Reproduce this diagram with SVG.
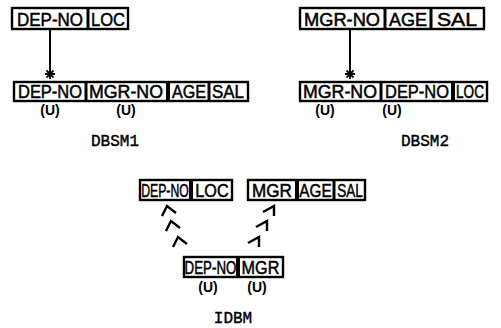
<svg xmlns="http://www.w3.org/2000/svg" width="501" height="328" viewBox="0 0 501 328">
<style>
.box{fill:#fff;stroke:#000;stroke-width:2.4}
.dv{stroke:#000;stroke-width:3}
.t{font-family:"Liberation Sans",Arial,sans-serif;font-size:18px;fill:#000;text-anchor:middle;stroke:#000;stroke-width:0.5}
.u{font-family:"Liberation Sans",Arial,sans-serif;font-size:14px;font-weight:bold;fill:#000;text-anchor:middle}
.lb{font-family:"Liberation Mono","Courier New",monospace;font-size:16px;fill:#000;text-anchor:middle;stroke:#000;stroke-width:0.4}
.ln{stroke:#000;stroke-width:2;fill:none}
.sr{stroke:#000;stroke-width:1.8;fill:none}
.ch{stroke:#000;stroke-width:2.4;fill:none;stroke-linejoin:miter}
</style>

<g id="dbsm1-top">
<rect class="box" x="12" y="8" width="116" height="21"/>
<line class="dv" x1="88" y1="8" x2="88" y2="29"/>
<text class="t" x="50" y="25.5" textLength="66" lengthAdjust="spacingAndGlyphs">DEP-NO</text>
<text class="t" x="108" y="25.5" textLength="34" lengthAdjust="spacingAndGlyphs">LOC</text>
</g>

<g id="dbsm1-bottom">
<rect class="box" x="14" y="82" width="234" height="19"/>
<line class="dv" x1="86" y1="82" x2="86" y2="101"/>
<line class="dv" x1="168" y1="82" x2="168" y2="101" style="stroke-width:4"/>
<line class="dv" x1="209" y1="82" x2="209" y2="101"/>
<text class="t" x="50" y="98" textLength="64" lengthAdjust="spacingAndGlyphs">DEP-NO</text>
<text class="t" x="126" y="98" textLength="74" lengthAdjust="spacingAndGlyphs">MGR-NO</text>
<text class="t" x="189" y="98" textLength="34" lengthAdjust="spacingAndGlyphs">AGE</text>
<text class="t" x="228" y="98" textLength="32" lengthAdjust="spacingAndGlyphs">SAL</text>
<text class="u" x="50" y="115">(U)</text>
<text class="u" x="126" y="115">(U)</text>
<text class="lb" x="115" y="146">DBSM1</text>
</g>

<g id="dbsm2-top">
<rect class="box" x="300" y="8" width="184" height="21"/>
<line class="dv" x1="385" y1="8" x2="385" y2="29"/>
<line class="dv" x1="431" y1="8" x2="431" y2="29"/>
<text class="t" x="342" y="25.5" textLength="76" lengthAdjust="spacingAndGlyphs">MGR-NO</text>
<text class="t" x="408" y="25.5" textLength="38" lengthAdjust="spacingAndGlyphs">AGE</text>
<text class="t" x="457" y="25.5" textLength="40" lengthAdjust="spacingAndGlyphs">SAL</text>
</g>

<g id="dbsm2-bottom">
<rect class="box" x="300" y="82" width="187" height="19"/>
<line class="dv" x1="381" y1="82" x2="381" y2="101"/>
<line class="dv" x1="453" y1="82" x2="453" y2="101" style="stroke-width:4"/>
<text class="t" x="340" y="98" textLength="74" lengthAdjust="spacingAndGlyphs">MGR-NO</text>
<text class="t" x="417" y="98" textLength="64" lengthAdjust="spacingAndGlyphs">DEP-NO</text>
<text class="t" x="470" y="98" textLength="28" lengthAdjust="spacingAndGlyphs">LOC</text>
<text class="u" x="325" y="115">(U)</text>
<text class="u" x="392" y="115">(U)</text>
<text class="lb" x="425" y="146">DBSM2</text>
</g>

<g id="idbm-top-left">
<rect class="box" x="140" y="180" width="92" height="20"/>
<line class="dv" x1="191" y1="180" x2="191" y2="200" style="stroke-width:4"/>
<text class="t" transform="translate(165,196.5) scale(0.68,1)" x="0" y="0">DEP-NO</text>
<text class="t" transform="translate(212,196.5) scale(0.9,1)" x="0" y="0">LOC</text>
</g>

<g id="idbm-top-right">
<rect class="box" x="248" y="180" width="117" height="20"/>
<line class="dv" x1="297" y1="180" x2="297" y2="200" style="stroke-width:4"/>
<line class="dv" x1="334" y1="180" x2="334" y2="200"/>
<text class="t" transform="translate(272,196.5) scale(0.95,1)" x="0" y="0">MGR</text>
<text class="t" transform="translate(315.5,196.5) scale(0.85,1)" x="0" y="0">AGE</text>
<text class="t" transform="translate(350,196.5) scale(0.75,1)" x="0" y="0">SAL</text>
</g>

<g id="idbm-bottom">
<rect class="box" x="184" y="257" width="99" height="20"/>
<line class="dv" x1="238" y1="257" x2="238" y2="277" style="stroke-width:4"/>
<text class="t" transform="translate(210.5,273.5) scale(0.74,1)" x="0" y="0">DEP-NO</text>
<text class="t" transform="translate(260.5,273.5) scale(0.9,1)" x="0" y="0">MGR</text>
<text class="u" x="208" y="292">(U)</text>
<text class="u" x="257" y="292">(U)</text>
<text class="lb" x="233" y="323">IDBM</text>
</g>

<g id="connectors">
<line class="ln" x1="50" y1="29" x2="50" y2="74"/>
<path class="sr" d="M50,69 V79 M45,74 H55 M46.5,70.5 L53.5,77.5 M53.5,70.5 L46.5,77.5"/>
<line class="ln" x1="350" y1="29" x2="350" y2="74"/>
<path class="sr" d="M350,69 V79 M345,74 H355 M346.5,70.5 L353.5,77.5 M353.5,70.5 L346.5,77.5"/>
<polyline class="ch" points="162,216 167,206 176,213"/>
<polyline class="ch" points="166,231 171,221 180,228"/>
<polyline class="ch" points="173,247 178,237 187,244"/>
<polyline class="ch" points="263,212 274,206 274,216"/>
<polyline class="ch" points="256,227 267,221 267,231"/>
<polyline class="ch" points="248,243 259,237 259,247"/>
</g>
</svg>
